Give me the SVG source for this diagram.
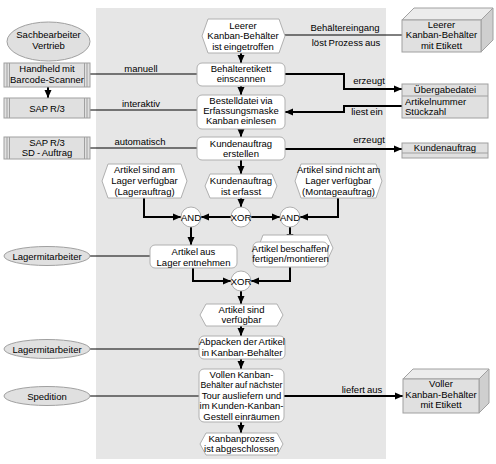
<svg xmlns="http://www.w3.org/2000/svg" width="496" height="464" viewBox="0 0 496 464">
<defs>
<marker id="ah" viewBox="0 0 8 8" refX="8" refY="4" markerWidth="8" markerHeight="8" markerUnits="userSpaceOnUse" orient="auto"><path d="M0,0.5 L8,4 L0,7.5 z" fill="#000"/></marker>
<style>
text{font-family:"Liberation Sans",Arial,sans-serif;font-size:9.5px;fill:#000;word-spacing:-0.6px}
.c{text-anchor:middle}
.wh{fill:#fff;stroke:#b0b0b0;stroke-width:1}
.gr{fill:#e0e0e0;stroke:#a0a0a0;stroke-width:1}
.ln{stroke:#a0a0a0;stroke-width:1}
.top{fill:#ececec;stroke:#a0a0a0}
.side{fill:#cfcfcf;stroke:#a0a0a0}
.thin{stroke:#000;stroke-width:1;fill:none}
.flow{stroke:#000;stroke-width:2;fill:none;marker-end:url(#ah)}
</style>
</defs>
<rect x="0" y="0" width="496" height="464" fill="#fff"/>
<rect id="lane" x="96" y="8" width="290" height="451" fill="#e6e6e6"/>

<g id="connectors">
<path class="thin" d="M89,74 H197"/>
<path class="thin" d="M90,110 H197"/>
<path class="thin" d="M90,148 H197"/>
<path class="thin" d="M285,35 H402"/>
<path class="thin" d="M90,256 H150"/>
<path class="thin" d="M90,349 H199"/>
<path class="thin" d="M90,396 H199"/>
<path class="flow" d="M48,87 V98"/>
<path class="flow" d="M241,53 V63"/>
<path class="flow" d="M241,86 V95"/>
<path class="flow" d="M241,129 V137"/>
<path class="flow" d="M241,160 V174"/>
<path class="flow" d="M241,198 V207"/>
<path class="flow" d="M144,198 V217 H181"/>
<path class="flow" d="M231,217 H201"/>
<path class="flow" d="M251,217 H280"/>
<path class="flow" d="M338,198 V217 H300"/>
<path class="flow" d="M191,227 V245"/>
<path class="flow" d="M290,227 V242"/>
<path class="flow" d="M193,268 V281 H231"/>
<path class="flow" d="M290,267 V281 H251"/>
<path class="flow" d="M241,291 V304"/>
<path class="flow" d="M241,326 V336"/>
<path class="flow" d="M241,359 V369"/>
<path class="flow" d="M241,422 V433"/>
<path class="flow" d="M285,74 H344 V89 H402"/>
<path class="flow" d="M402,106 H344 V112 H285"/>
<path class="flow" d="M285,149 H402"/>
<path class="flow" d="M284,396 H403"/>
<text class="c" x="141" y="72">manuell</text>
<text class="c" x="141" y="107">interaktiv</text>
<text class="c" x="140" y="145">automatisch</text>
<text class="c" x="345" y="31">Behältereingang</text>
<text class="c" x="346" y="46">löst Prozess aus</text>
<text class="c" x="369" y="84">erzeugt</text>
<text class="c" x="367" y="115">liest ein</text>
<text class="c" x="369" y="143">erzeugt</text>
<text class="c" x="362" y="393">liefert aus</text>
</g>

<g id="sachbearbeiter">
<ellipse class="gr" cx="48.5" cy="41.5" rx="41.5" ry="19.5"/>
<text class="c" x="48.5" y="38">Sachbearbeiter</text>
<text class="c" x="48.5" y="48.5">Vertrieb</text>
</g>
<g id="handheld">
<rect class="gr" x="4" y="63" width="86" height="24"/>
<path class="ln" d="M7,63 V87 M9.5,63 V87 M84.5,63 V87 M87,63 V87"/>
<text class="c" x="47" y="72">Handheld mit</text>
<text class="c" x="47" y="83">Barcode-Scanner</text>
</g>
<g id="sap1">
<rect class="gr" x="4" y="98" width="86" height="20"/>
<path class="ln" d="M7,98 V118 M9.5,98 V118 M84.5,98 V118 M87,98 V118"/>
<text class="c" x="47" y="111.5">SAP R/3</text>
</g>
<g id="sap2">
<rect class="gr" x="4" y="137" width="86" height="22"/>
<path class="ln" d="M7,137 V159 M9.5,137 V159 M84.5,137 V159 M87,137 V159"/>
<text class="c" x="47" y="145.5">SAP R/3</text>
<text class="c" x="47" y="156">SD - Auftrag</text>
</g>
<g id="lager1">
<ellipse class="gr" cx="47" cy="256" rx="43" ry="9.5"/>
<text class="c" x="47" y="259.5">Lagermitarbeiter</text>
</g>
<g id="lager2">
<ellipse class="gr" cx="47" cy="349" rx="43" ry="9.5"/>
<text class="c" x="47" y="352.5">Lagermitarbeiter</text>
</g>
<g id="spedition">
<ellipse class="gr" cx="47" cy="396" rx="43" ry="9.5"/>
<text class="c" x="47" y="399.5">Spedition</text>
</g>

<g id="e1">
<polygon class="wh" points="202,36 208,19 279,19 285,36 279,53 208,53"/>
<text class="c" x="243" y="28.5">Leerer</text>
<text class="c" x="243" y="39">Kanban-Behälter</text>
<text class="c" x="243" y="49.5">ist eingetroffen</text>
</g>
<g id="f1">
<rect class="wh" x="197" y="63" width="88" height="23" rx="5"/>
<text class="c" x="241" y="71.5">Behälteretikett</text>
<text class="c" x="241" y="82">einscannen</text>
</g>
<g id="f2">
<rect class="wh" x="197" y="95" width="88" height="34" rx="5"/>
<text class="c" x="241" y="104">Bestelldatei via</text>
<text class="c" x="241" y="114">Erfassungsmaske</text>
<text class="c" x="241" y="124">Kanban einlesen</text>
</g>
<g id="f3">
<rect class="wh" x="197" y="137" width="88" height="23" rx="5"/>
<text class="c" x="241" y="146.5">Kundenauftrag</text>
<text class="c" x="241" y="157">erstellen</text>
</g>
<g id="e-lager">
<polygon class="wh" points="102,181 108,164 181,164 187,181 181,198 108,198"/>
<text class="c" x="144.5" y="173">Artikel sind am</text>
<text class="c" x="144.5" y="184">Lager verfügbar</text>
<text class="c" x="144.5" y="194.5">(Lagerauftrag)</text>
</g>
<g id="e2">
<polygon class="wh" points="205,186 210,174 272,174 277,186 272,198 210,198"/>
<text class="c" x="241" y="184">Kundenauftrag</text>
<text class="c" x="241" y="194.5">ist erfasst</text>
</g>
<g id="e-montage">
<polygon class="wh" points="295,181 301,164 376,164 382,181 376,198 301,198"/>
<text class="c" x="338.5" y="173">Artikel sind nicht am</text>
<text class="c" x="338.5" y="184">Lager verfügbar</text>
<text class="c" x="338.5" y="194.5">(Montageauftrag)</text>
</g>
<g id="and1">
<circle class="wh" cx="191" cy="217" r="10"/>
<text class="c" x="191" y="220.5">AND</text>
</g>
<g id="xor1">
<circle class="wh" cx="241" cy="217" r="10"/>
<text class="c" x="241" y="220.5">XOR</text>
</g>
<g id="and2">
<circle class="wh" cx="290" cy="217" r="10"/>
<text class="c" x="290" y="220.5">AND</text>
</g>
<g id="f-lager">
<rect class="wh" x="150" y="245" width="87" height="23" rx="5"/>
<text class="c" x="193.5" y="255">Artikel aus</text>
<text class="c" x="193.5" y="265.5">Lager entnehmen</text>
</g>
<g id="f-beschaffen">
<polygon class="wh" points="258,248 263,235 327,235 333,248 327,261 263,261"/>
<rect class="wh" x="253" y="242" width="75" height="25" rx="5"/>
<text class="c" x="290.5" y="251.5">Artikel beschaffen/</text>
<text class="c" x="290.5" y="262">fertigen/montieren</text>
</g>
<g id="xor2">
<circle class="wh" cx="241" cy="281" r="10"/>
<text class="c" x="241" y="284.5">XOR</text>
</g>
<g id="e3">
<polygon class="wh" points="200,315 206,304 277,304 283,315 277,326 206,326"/>
<text class="c" x="241.5" y="312.5">Artikel sind</text>
<text class="c" x="241.5" y="323">verfügbar</text>
</g>
<g id="f-abpacken">
<rect class="wh" x="199" y="336" width="86" height="23" rx="5"/>
<text class="c" x="242" y="345">Abpacken der Artikel</text>
<text class="c" x="242" y="356">in Kanban-Behälter</text>
</g>
<g id="f-vollen">
<rect class="wh" x="199" y="369" width="85" height="53" rx="5"/>
<text class="c" x="241.5" y="377.5">Vollen Kanban-</text>
<text class="c" x="241.5" y="388" textLength="82" lengthAdjust="spacingAndGlyphs">Behälter auf nächster</text>
<text class="c" x="241.5" y="398.5">Tour ausliefern und</text>
<text class="c" x="241.5" y="409">im Kunden-Kanban-</text>
<text class="c" x="241.5" y="419.5">Gestell einräumen</text>
</g>
<g id="e4">
<polygon class="wh" points="200,444 206,433 277,433 283,444 277,455 206,455"/>
<text class="c" x="241.5" y="441.5">Kanbanprozess</text>
<text class="c" x="241.5" y="452">ist abgeschlossen</text>
</g>

<g id="box-leer">
<polygon class="top" points="402,20 414,8 493,8 481,20"/>
<polygon class="side" points="481,20 493,8 493,40 481,52"/>
<rect class="gr" x="402" y="20" width="79" height="32"/>
<text class="c" x="441.5" y="27.5">Leerer</text>
<text class="c" x="441.5" y="38">Kanban-Behälter</text>
<text class="c" x="441.5" y="48.5">mit Etikett</text>
</g>
<g id="uebergabedatei">
<rect class="gr" x="402" y="84" width="86" height="34"/>
<path class="ln" d="M402,96 H488"/>
<text class="c" x="445" y="93">Übergabedatei</text>
<text x="405" y="104.5">Artikelnummer</text>
<text x="405" y="115">Stückzahl</text>
</g>
<g id="kundenauftrag">
<rect class="gr" x="402" y="143" width="86" height="15"/>
<path class="ln" d="M402,153 H488"/>
<text class="c" x="445" y="151">Kundenauftrag</text>
</g>
<g id="box-voll">
<polygon class="top" points="403,379 413,369 489,369 479,379"/>
<polygon class="side" points="479,379 489,369 489,403 479,413"/>
<rect class="gr" x="403" y="379" width="76" height="34"/>
<text class="c" x="441" y="387">Voller</text>
<text class="c" x="441" y="397.5">Kanban-Behälter</text>
<text class="c" x="441" y="408">mit Etikett</text>
</g>
</svg>
